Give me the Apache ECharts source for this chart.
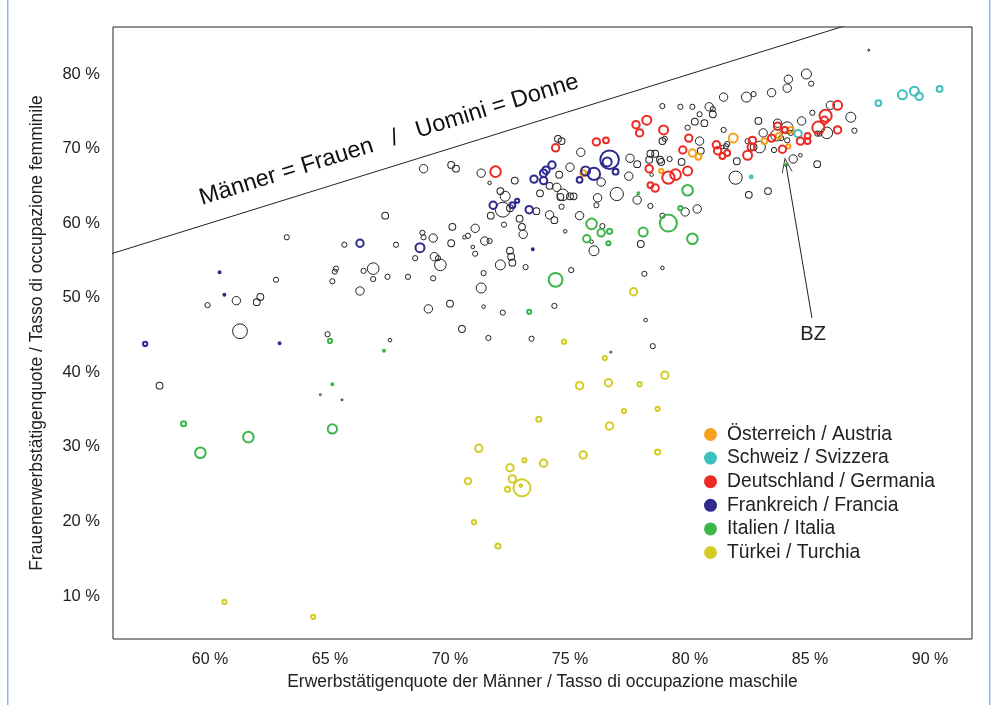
<!DOCTYPE html>
<html>
<head>
<meta charset="utf-8">
<script src="https://cdn.jsdelivr.net/npm/echarts@6/dist/echarts.min.js"></script>
<style>
html,body{margin:0;padding:0;background:#fff;}
#chart{width:998px;height:705px;}
</style>
</head>
<body>
<div id="chart"></div>
<script>
// ---- data: [male employment %, female employment %, size weight] ----
const xTicks = [60, 65, 70, 75, 80, 85, 90];
const yTicks = [10, 20, 30, 40, 50, 60, 70, 80];
const equalityLine = [[40, 40], [100, 100]];
const bzPoint = [84.0, 67.8];
const bzLabelAt = [85.08, 47.3];

const turkey = [
[60.6,9.2,2],[64.3,7.2,2],[71.0,19.9,2],[72.0,16.7,2.3],[70.75,25.4,2.7],[71.2,29.8,3],[72.5,27.2,3],[73.1,28.2,2],[73.9,27.8,3],[72.6,25.7,3],[72.4,24.3,2.3],[73.0,24.5,6],[72.95,24.8,1.5],[73.7,33.7,2.3],[74.75,44.1,2],[75.4,38.2,3],[75.55,28.9,3],[76.45,41.9,2],[76.6,38.6,3],[76.65,32.8,3],[77.25,34.8,2],[77.9,38.4,2],[78.65,35.1,2],[78.65,29.3,2.3],[78.95,39.6,3],[77.65,50.8,3]
];
const italy = [
[58.9,33.1,2.3],[59.6,29.2,4],[61.6,31.3,4],[65.1,32.4,3.6],[65.1,38.4,1],[65.0,44.2,2],[67.25,42.9,1],[73.3,48.1,2],[74.4,52.4,5],[75.7,57.9,3],[76.3,58.7,3],[76.65,58.9,2.3],[76.6,57.3,2],[75.9,59.9,4],[78.05,58.8,3.5],[79.1,60.0,6],[80.1,57.9,4],[79.9,64.4,4],[79.6,62.0,2],[77.85,64.0,1],[84.0,67.8,1.2]
];
const france = [
[57.3,43.8,2],[60.4,53.4,1.2],[60.6,50.4,1.2],[62.9,43.9,1],[66.25,57.3,3],[68.75,56.7,3.5],[71.8,62.4,3],[72.6,62.4,2.5],[72.8,63.0,2],[73.3,61.8,3],[73.45,56.5,1],[73.5,65.9,3],[73.9,65.7,3],[73.9,66.7,3],[74.0,67.1,3],[74.25,67.8,3],[75.4,65.8,2.5],[75.65,67.0,3.5],[76.0,66.6,4.5],[76.65,68.5,6.5],[76.55,68.2,3.5],[76.9,66.9,2.5]
];
const germany = [
[71.9,66.9,4],[74.4,70.1,3],[76.1,70.9,3],[76.5,71.1,2.5],[77.75,73.2,3],[77.9,72.1,3],[78.2,73.8,3.5],[78.9,72.5,3.5],[79.95,71.4,3],[79.7,69.8,3],[81.1,70.5,3],[81.15,69.7,3],[78.3,67.3,3],[79.1,66.1,4.5],[79.4,66.5,4],[79.9,67.0,3.5],[78.35,65.1,2.5],[78.55,64.7,3],[81.55,69.4,2.5],[81.35,69.0,2.5],[82.6,71.1,3],[82.55,70.2,3],[82.4,69.1,3.5],[83.4,71.4,3],[83.65,73.0,3],[83.95,72.5,2.5],[83.85,69.9,3],[84.6,71.0,3],[84.9,71.0,2.5],[84.9,71.7,2.5],[85.35,72.8,4.5],[85.65,74.4,4.5],[85.6,73.8,3],[86.15,75.8,3.5],[86.15,72.5,3]
];
const austria = [
[75.55,66.7,2.5],[78.8,67.0,2],[80.1,69.4,3],[80.35,68.9,2.5],[81.8,71.4,3.5],[83.1,71.0,2.5],[83.7,71.7,2.5],[84.2,72.5,2.5],[84.1,70.3,2]
];
const switzerland = [
[82.55,66.2,1.5],[84.5,72.0,3],[87.85,76.1,2.5],[88.85,77.2,3.5],[89.35,77.7,3.5],[89.55,77.0,3],[90.4,78.0,2.5]
];
const others = [
[63.2,58.1,2],[62.75,52.4,2],[65.25,53.9,2],[65.2,53.5,2],[65.1,52.2,2],[61.1,49.6,3],[59.9,49.0,2],[61.95,49.4,2.5],[62.1,50.1,2.5],[61.25,45.5,5],[64.9,45.1,2],[57.9,38.2,2.5],[64.6,37.0,1],[65.5,36.3,1],
[65.6,57.1,2],[67.3,61.0,2.5],[67.75,57.1,2],[68.85,58.7,2],[68.9,58.1,2],[69.3,58.0,3],[70.1,59.5,2.5],[70.05,57.3,2.5],[71.05,59.3,3],[70.6,58.1,1.5],[70.75,58.3,2],[71.45,57.6,3],[71.65,57.6,2],
[68.55,55.3,2],[69.35,55.5,3],[69.5,55.3,2],[69.6,54.4,4],[70.95,56.8,1.5],[71.05,55.9,2],[72.5,56.3,2.5],[72.55,55.5,2.5],[72.6,54.7,2.5],[72.1,54.4,3.5],[73.15,54.1,2],[71.4,53.3,2],[66.4,53.6,2],[66.8,53.9,4],[66.8,52.5,2],[67.4,52.8,2],[68.25,52.8,2],[69.3,52.6,2],[71.3,51.3,3.5],[66.25,50.9,3],[69.1,48.5,3],[70.0,49.2,2.5],[71.4,48.8,1.5],[72.2,48.0,2],[70.5,45.8,2.5],[67.5,44.3,1.5],[71.6,44.6,2],
[68.9,67.3,3],[70.05,67.8,2.5],[70.25,67.3,2.5],[71.3,66.7,3],[71.65,65.4,1.5],[72.7,65.7,2.5],[72.1,64.3,2.5],[72.3,63.6,3.5],[72.2,61.8,5],[72.5,62.0,2.5],[71.7,61.0,2.5],[72.9,60.6,2.5],[73.0,59.5,2.5],[73.05,58.5,3],[72.25,59.8,2],
[74.8,58.9,1.5],[75.9,57.5,1.5],[76.0,56.3,3.5],[77.95,57.2,2.5],[75.05,53.7,2],[78.85,54.0,1.5],[78.1,53.2,2],[74.35,48.9,2],[78.15,47.0,1.5],[73.4,44.5,2],[76.7,42.7,1],[78.45,43.5,2],
[78.85,75.7,2],[79.6,75.6,2],[80.1,75.6,2],[80.8,75.6,3],[80.95,75.3,2],[80.95,74.6,2.5],[80.4,74.6,2],[80.2,73.6,2.5],[80.6,73.4,2.5],[79.9,72.8,2],[80.4,71.0,3],[78.95,71.3,2],[78.85,71.0,2.5],[74.5,71.3,2.5],[74.65,71.0,2.5],[75.45,69.5,3],[80.45,69.7,2.5],[77.5,68.7,3],[77.8,67.9,2.5],[77.45,66.3,3],[75.0,67.5,3],[74.55,66.5,2.5],[76.3,65.5,3],[78.35,69.3,2.5],[78.55,69.3,2.5],[78.3,68.5,2.5],[78.75,68.5,2.5],[78.8,68.2,2.5],[79.15,68.6,2],[79.65,68.2,2.5],[78.4,66.5,1.5],
[74.15,65.0,2.5],[74.45,64.8,3],[74.7,63.8,4],[74.6,63.5,2.5],[75.0,63.6,2.5],[75.15,63.6,2.5],[73.75,64.0,2.5],[76.95,63.9,4.5],[76.15,63.4,3],[76.1,62.4,2],[77.8,63.1,3],[78.35,62.3,2],[73.6,61.6,2.5],[74.15,61.1,3],[74.35,60.4,2.5],[75.4,61.0,3],[74.65,62.2,2],[76.35,59.6,2],[78.85,61.0,2],[79.8,61.5,3],[80.3,61.9,3],
[84.1,79.3,3],[84.85,80.0,3.5],[85.05,78.7,2],[84.05,78.1,3],[81.4,76.9,3],[82.35,76.9,3.5],[82.65,77.3,2],[83.4,77.5,3],[85.85,75.8,3],[86.7,74.2,3.5],[85.1,74.8,2],[84.65,73.7,3],[82.85,73.7,2.5],[81.4,72.5,2],[81.55,70.6,2],[81.5,70.3,2],[81.35,70.2,1.5],[82.4,71.0,2],[82.65,70.2,2.5],[82.9,70.2,4],[83.05,72.1,3],[83.65,73.4,3],[83.6,71.8,4],[83.8,71.4,2],[84.05,72.8,4],[84.2,72.1,2],[84.05,71.1,2],[85.3,72.0,2],[85.4,72.0,2],[85.7,72.1,4],[86.85,72.4,2],[83.5,69.8,2],[84.3,68.6,3],[84.6,69.1,1.5],[85.3,67.9,2.5],[81.95,68.3,2.5],[81.9,66.1,4.5],[82.45,63.8,2.5],[83.25,64.3,2.5],[87.45,83.2,1]
];

const countries = [
  {name: 'Österreich / Austria', data: austria, color: '#F5A11C'},
  {name: 'Schweiz / Svizzera', data: switzerland, color: '#3EC0BE'},
  {name: 'Deutschland / Germania', data: germany, color: '#EC2A24'},
  {name: 'Frankreich / Francia', data: france, color: '#2E2A8E'},
  {name: 'Italien / Italia', data: italy, color: '#3CB54A'},
  {name: 'Türkei / Turchia', data: turkey, color: '#D4CC22'}
];

const FONT = '"Liberation Sans", Arial, sans-serif';
const INK = '#222';

function sizeFn(bw) {
  return function (d) { return Math.max(2, 3 + (d[2] - 1) * 3.2 - bw); };
}

const series = [
  {
    type: 'line', data: equalityLine, showSymbol: false, symbol: 'none', clip: true,
    lineStyle: {color: INK, width: 1}, silent: true, z: 1
  },
  {
    type: 'scatter', name: 'others', data: others, symbolSize: sizeFn(1),
    itemStyle: {color: 'rgba(0,0,0,0)', borderColor: INK, borderWidth: 1, opacity: 1},
    silent: true, z: 2
  }
];
countries.forEach(function (c) {
  const s = {
    type: 'scatter', name: c.name, data: c.data, symbolSize: sizeFn(2),
    itemStyle: {color: 'rgba(0,0,0,0)', borderColor: c.color, borderWidth: 2, opacity: 1},
    silent: true, z: 3
  };
  if (c.data === italy) {
    s.markLine = {
      silent: true,
      symbol: ['none', 'path://M0,14 L5,0 L10,14 L9.2,14 L5,2.3 L0.8,14 Z'],
      symbolSize: [11, 15],
      lineStyle: {color: INK, width: 1, type: 'solid'},
      label: {show: true, position: 'start', formatter: 'BZ', fontSize: 20, color: INK, fontFamily: FONT, distance: 7},
      data: [[{coord: bzLabelAt}, {coord: bzPoint}]]
    };
  }
  series.push(s);
});

const chart = echarts.init(document.getElementById('chart'));
chart.setOption({
  animation: false,
  backgroundColor: '#fff',
  textStyle: {fontFamily: FONT},
  grid: {left: 113, top: 27, width: 859, height: 612, show: true, borderColor: INK, borderWidth: 1, containLabel: false},
  xAxis: {
    type: 'value', min: 55.96, max: 91.75,
    name: 'Erwerbstätigenquote der Männer / Tasso di occupazione maschile',
    nameLocation: 'middle', nameGap: 31,
    nameTextStyle: {fontSize: 17.5, color: INK, fontFamily: FONT},
    axisLine: {show: false}, axisTick: {show: false},
    splitLine: {show: false},
    axisLabel: {customValues: xTicks, formatter: function (v) { return v + ' %'; }, fontSize: 16, color: INK, margin: 13, fontFamily: FONT}
  },
  yAxis: {
    type: 'value', min: 4.23, max: 86.3,
    name: 'Frauenerwerbstätigenquote / Tasso di occupazione femminile',
    nameLocation: 'middle', nameGap: 67, nameRotate: 90,
    nameTextStyle: {fontSize: 17.5, color: INK, fontFamily: FONT},
    axisLine: {show: false}, axisTick: {show: false},
    splitLine: {show: false},
    axisLabel: {customValues: yTicks, formatter: function (v) { return v + ' %'; }, fontSize: 16.5, color: INK, margin: 13, fontFamily: FONT}
  },
  legend: {
    orient: 'vertical', left: 699, top: 420, itemWidth: 13, itemHeight: 13, itemGap: 4.6,
    icon: 'circle',
    textStyle: {fontSize: 19.3, color: INK, fontFamily: FONT, padding: [0, 0, 0, 5]},
    data: countries.map(function (c) {
      return {name: c.name, itemStyle: {color: c.color, borderWidth: 0}};
    })
  },
  graphic: [
    {type: 'text', x: 389, y: 140, rotation: 0.302, z: 10,
     style: {text: 'Männer = Frauen   /   Uomini = Donne', font: '23.5px "Liberation Sans", Arial, sans-serif', fill: '#111', align: 'center', verticalAlign: 'middle'}},
    {type: 'rect', shape: {x: 7, y: 0, width: 1.5, height: 705}, style: {fill: '#8fb8dc'}, silent: true},
    {type: 'rect', shape: {x: 989, y: 0, width: 1.5, height: 705}, style: {fill: '#8fb8dc'}, silent: true}
  ],
  series: series
});
</script>
</body>
</html>
